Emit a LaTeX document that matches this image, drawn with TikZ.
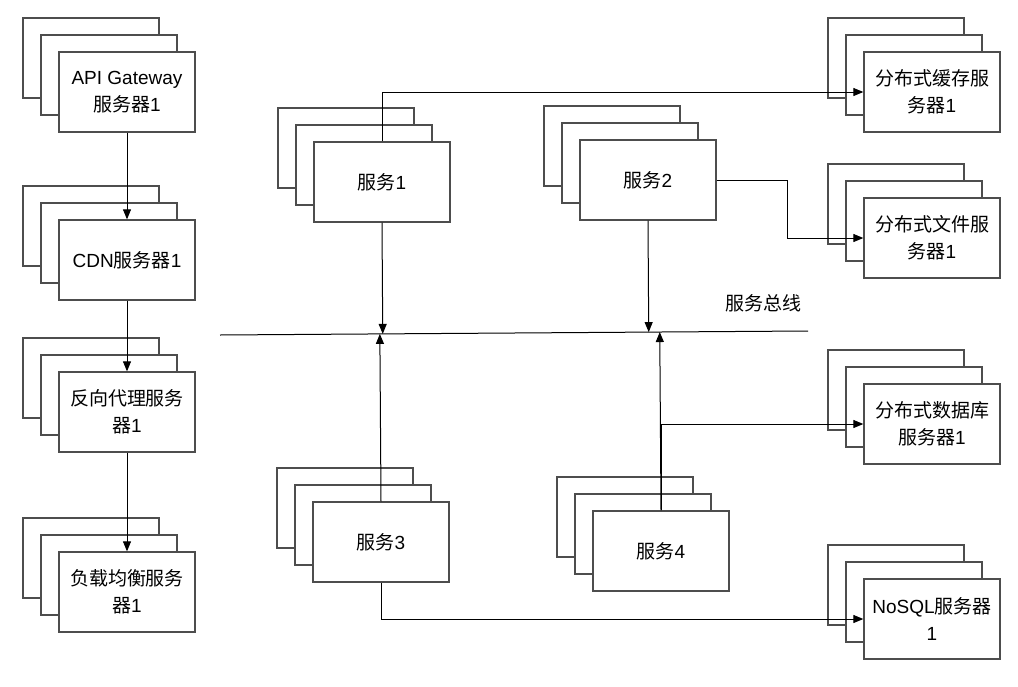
\documentclass[tikz,border=0pt]{standalone}
\usepackage{fontspec}
\setmainfont{Liberation Sans}
\newfontfamily\cjk{Noto Sans CJK SC}
\usepackage{tikz}
\usetikzlibrary{arrows.meta,calc}
\definecolor{boxline}{HTML}{4D4D4D}
\tikzset{
 srv/.style={draw=boxline,line width=1.3pt,fill=white,minimum width=136pt,minimum height=80pt,inner sep=0pt,align=center,font=\fontsize{19}{27}\selectfont},
 link/.style={draw=black,line width=1pt,-{Triangle[length=10pt,width=8pt]}}
}
\begin{document}
\begin{tikzpicture}[x=1pt,y=-1pt]
\useasboundingbox (0,0) rectangle (1018,686);
\foreach \name/\x/\y/\txt in {api/127/92/{API Gateway\\{\cjk 服务器}1},cdn/127/260/{CDN{\cjk 服务器}1},proxy/127/412/{{\cjk 反向代理服务}\\{\cjk 器}1},lb/127/592/{{\cjk 负载均衡服务}\\{\cjk 器}1},
 svc1/382/182/{{\cjk 服务}1},svc2/648/180/{{\cjk 服务}2},svc3/381/542/{{\cjk 服务}3},svc4/661/551/{{\cjk 服务}4},
 cache/932/92/{{\cjk 分布式缓存服}\\{\cjk 务器}1},file/932/238/{{\cjk 分布式文件服}\\{\cjk 务器}1},db/932/424/{{\cjk 分布式数据库}\\{\cjk 服务器}1},nosql/932/619/{NoSQL{\cjk 服务器}\\1}}{
 \draw[draw=boxline,line width=1.3pt,fill=white] (\x-104,\y-74) rectangle ++(136,80);
 \draw[draw=boxline,line width=1.3pt,fill=white] (\x-86,\y-57) rectangle ++(136,80);
 \node[srv] (\name) at (\x,\y) {\txt};
 }
\coordinate (busL) at (220,335);
\coordinate (busR) at (808,331);
\draw[line width=1pt] (busL) -- (busR);
\node[font=\fontsize{19}{23}\selectfont\cjk] (buslabel) at (763,303) {服务总线};
\draw[link] (api) -- (cdn);
\draw[link] (cdn) -- (proxy);
\draw[link] (proxy) -- (lb);
\foreach \s in {svc1,svc2}
 \draw[link] (\s.south) -- ($(busL)!(\s.south)!(busR)$);
\foreach \s in {svc3,svc4}
 \draw[link] (\s.north) -- ($(busL)!(\s.north)!(busR)$);
\draw[link] (svc1.north) |- (cache.west);
\draw[link] (svc2.east) -- ++(71,0) |- (file.west);
\draw[link] (svc4.north) |- (db.west);
\draw[link] (svc3.south) |- (nosql.west);
\end{tikzpicture}
\end{document}
